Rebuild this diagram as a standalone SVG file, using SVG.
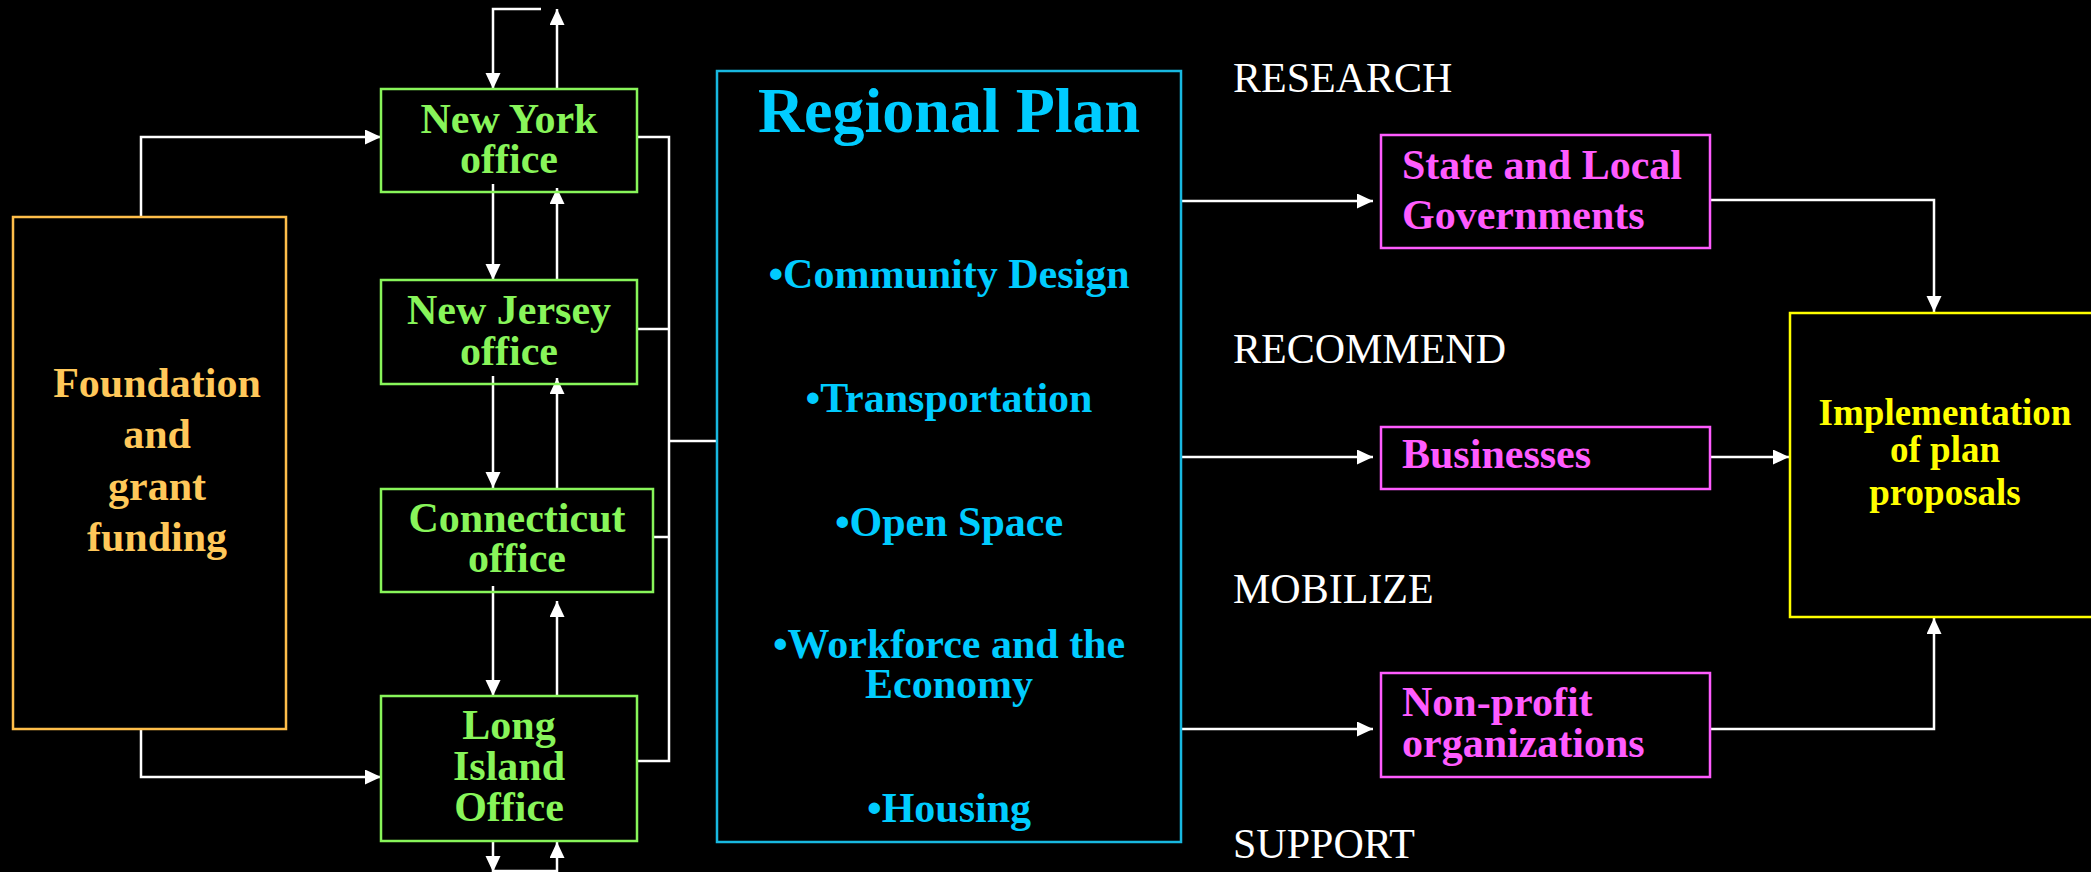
<svg xmlns="http://www.w3.org/2000/svg" width="2091" height="872" viewBox="0 0 2091 872">
<defs>
<style>
text{font-family:"Liberation Serif","Times New Roman",serif;font-weight:bold;font-size:42px}
.box{fill:none;stroke-width:2.5}
.c{stroke:#fff;stroke-width:2.5;fill:none}
.ca{stroke:#fff;stroke-width:2.5;fill:none;marker-end:url(#ah)}
.g{fill:#88F55A}.gs{stroke:#88F55A}
.o{fill:#FFC85A}.os{stroke:#FFBE4A}
.b{fill:#00CCFF}.bs{stroke:#18B8E0}
.p{fill:#FF5CFF}.ps{stroke:#FF5CFF}
.y{fill:#FFFF00}.ys{stroke:#FFFF00}
.w{fill:#fff;font-weight:normal}
</style>
<marker id="ah" markerUnits="userSpaceOnUse" markerWidth="16" markerHeight="16" refX="16" refY="7.5" orient="auto"><path d="M0,0 L16,7.5 L0,15 z" fill="#fff"/></marker>
</defs>
<rect width="2091" height="872" fill="#000"/>

<g id="connectors">
<path class="ca" d="M141,217 V137 H381"/>
<path class="ca" d="M141,729 V777 H381"/>
<path class="ca" d="M541,9 H493 V89"/>
<path class="ca" d="M557,89 V9"/>
<path class="ca" d="M493,184 V280"/>
<path class="ca" d="M557,280 V188"/>
<path class="ca" d="M493,376 V488"/>
<path class="ca" d="M557,488 V378"/>
<path class="ca" d="M493,586 V696"/>
<path class="ca" d="M557,696 V601"/>
<path class="ca" d="M493,841 V872"/>
<path class="ca" d="M557,872 V842"/>
<path class="c" d="M493,871 H557"/>
<path class="c" d="M637,137 H669 V761 H637"/>
<path class="c" d="M637,329 H669"/>
<path class="c" d="M653,537 H669"/>
<path class="c" d="M669,441 H718"/>
<path class="ca" d="M1181,201 H1373"/>
<path class="ca" d="M1181,457 H1373"/>
<path class="ca" d="M1181,729 H1373"/>
<path class="ca" d="M1710,200 H1934 V312"/>
<path class="ca" d="M1710,457 H1789"/>
<path class="ca" d="M1710,729 H1934 V618"/>
</g>

<g id="foundation">
<rect class="box os" x="13" y="217" width="273" height="512"/>
<text class="o" text-anchor="middle" x="157" y="397">Foundation</text>
<text class="o" text-anchor="middle" x="157" y="448">and</text>
<text class="o" text-anchor="middle" x="157" y="500">grant</text>
<text class="o" text-anchor="middle" x="157" y="551">funding</text>
</g>

<g id="newyork">
<rect class="box gs" x="381" y="89" width="256" height="103"/>
<text class="g" text-anchor="middle" x="509" y="133">New York</text>
<text class="g" text-anchor="middle" x="509" y="173">office</text>
</g>
<g id="newjersey">
<rect class="box gs" x="381" y="280" width="256" height="104"/>
<text class="g" text-anchor="middle" x="509" y="324">New Jersey</text>
<text class="g" text-anchor="middle" x="509" y="365">office</text>
</g>
<g id="connecticut">
<rect class="box gs" x="381" y="489" width="272" height="103"/>
<text class="g" text-anchor="middle" x="517" y="532">Connecticut</text>
<text class="g" text-anchor="middle" x="517" y="572">office</text>
</g>
<g id="longisland">
<rect class="box gs" x="381" y="696" width="256" height="145"/>
<text class="g" text-anchor="middle" x="509" y="739">Long</text>
<text class="g" text-anchor="middle" x="509" y="780">Island</text>
<text class="g" text-anchor="middle" x="509" y="821">Office</text>
</g>

<g id="regionalplan">
<rect class="box bs" x="717" y="71" width="464" height="771"/>
<text class="b" text-anchor="middle" x="949" y="132" style="font-size:64px">Regional Plan</text>
<text class="b" text-anchor="middle" x="949" y="288">•Community Design</text>
<text class="b" text-anchor="middle" x="949" y="412">•Transportation</text>
<text class="b" text-anchor="middle" x="949" y="536">•Open Space</text>
<text class="b" text-anchor="middle" x="949" y="658">•Workforce and the</text>
<text class="b" text-anchor="middle" x="949" y="698">Economy</text>
<text class="b" text-anchor="middle" x="949" y="822">•Housing</text>
</g>

<g id="labels">
<text class="w" x="1233" y="92">RESEARCH</text>
<text class="w" x="1233" y="363">RECOMMEND</text>
<text class="w" x="1233" y="603">MOBILIZE</text>
<text class="w" x="1233" y="858">SUPPORT</text>
</g>

<g id="government">
<rect class="box ps" x="1381" y="135" width="329" height="113"/>
<text class="p" x="1402" y="179">State and Local</text>
<text class="p" x="1402" y="229">Governments</text>
</g>
<g id="businesses">
<rect class="box ps" x="1381" y="427" width="329" height="62"/>
<text class="p" x="1402" y="468">Businesses</text>
</g>
<g id="nonprofit">
<rect class="box ps" x="1381" y="673" width="329" height="104"/>
<text class="p" x="1402" y="716">Non-profit</text>
<text class="p" x="1402" y="757">organizations</text>
</g>

<g id="implementation">
<rect class="box ys" x="1790" y="313" width="320" height="304"/>
<text class="y" text-anchor="middle" x="1945" y="425" style="font-size:37px">Implementation</text>
<text class="y" text-anchor="middle" x="1945" y="462" style="font-size:37px">of plan</text>
<text class="y" text-anchor="middle" x="1945" y="505" style="font-size:37px">proposals</text>
</g>
</svg>
